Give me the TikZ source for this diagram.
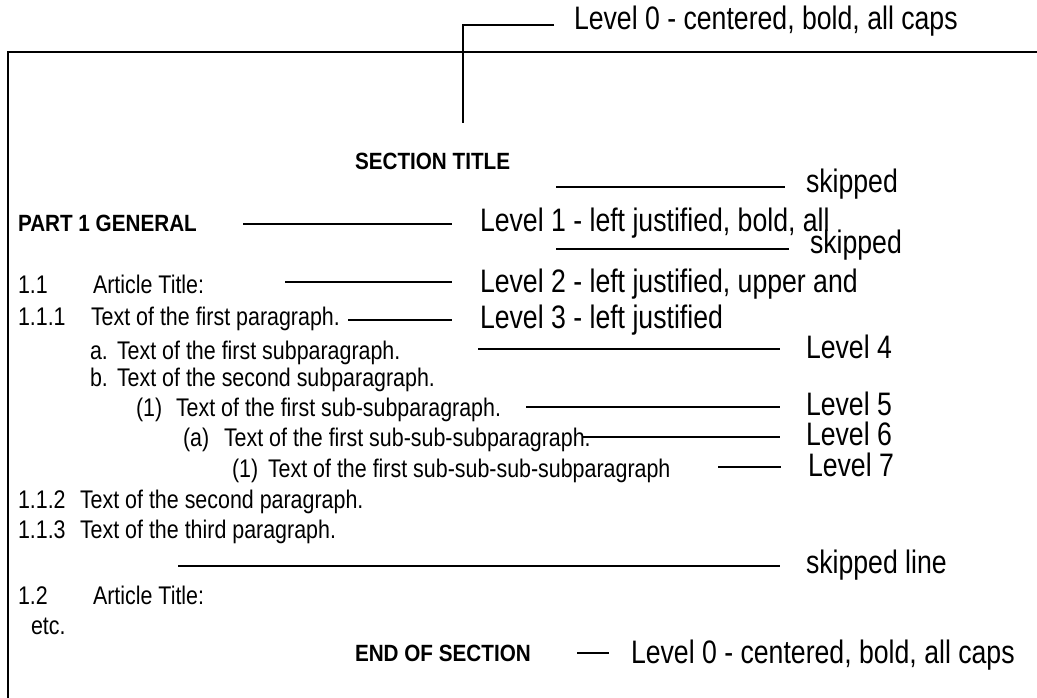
\documentclass[tikz,border=0pt]{standalone}
\usepackage{fontspec}
\setmainfont{Liberation Sans}[FakeStretch=0.84]
\newfontfamily\bignarrow{Liberation Sans}[FakeStretch=0.82]
\newfontfamily\bnarrow{Liberation Sans}[FakeStretch=0.88]
\begin{document}
\begin{tikzpicture}[x=1pt,y=-1pt,
  every node/.style={inner sep=0pt,outer sep=0pt,anchor=base west},
  body/.style={font=\fontsize{25.5}{27}\selectfont},
  head/.style={font=\bnarrow\bfseries\fontsize{23.5}{25}\selectfont},
  label/.style={font=\bignarrow\fontsize{32.5}{34}\selectfont},
  lead/.style={line width=1.6pt},
  frame/.style={line width=2.6pt}]
\useasboundingbox (0,0) rectangle (1037,698);
% frame
\coordinate (fbl) at (8,700);
\coordinate (ftl) at (8,52);
\coordinate (ftr) at (1040,52);
\draw[frame] (fbl) -- (ftl) -- (ftr);
% top label
\node[label] (l0top) at (574,30) {Level 0 - centered, bold, all caps};
\coordinate (t1) at (554,25);
\coordinate (t2) at (463,25);
\coordinate (t3) at (463,123);
\draw[lead] (t1) -- (t2) -- (t3);
% section title
\node[head] (sect) at (355,170) {SECTION TITLE};
\coordinate (s1a) at (556,187); \coordinate (s1b) at (785,187);
\draw[lead] (s1a) -- (s1b);
\node[label] (skip1) at (806,193) {skipped};
% part
\node[head] (part) at (18,232) {PART 1 GENERAL};
\coordinate (p1) at (243,224); \coordinate (p2) at (452,224);
\draw[lead] (p1) -- (p2);
\node[label] (l1) at (480,231) {Level 1 - left justified, bold, all};
\coordinate (s2a) at (556,249); \coordinate (s2b) at (789,249);
\draw[lead] (s2a) -- (s2b);
\node[label] (skip2) at (810,254) {skipped};
% 1.1
\node[body] (n11) at (18,293) {1.1};
\node[body] (a11) at (93,293) {Article Title:};
\coordinate (q1) at (285,282); \coordinate (q2) at (452,282);
\draw[lead] (q1) -- (q2);
\node[label] (l2) at (480,292) {Level 2 - left justified, upper and};
% 1.1.1
\node[body] (n111) at (18,325) {1.1.1};
\node[body] (t111) at (91,325) {Text of the first paragraph.};
\coordinate (r1) at (348,320); \coordinate (r2) at (452,320);
\draw[lead] (r1) -- (r2);
\node[label] (l3) at (480,328) {Level 3 - left justified};
% a.
\node[body] (na) at (90,359) {a.};
\node[body] (ta) at (117,359) {Text of the first subparagraph.};
\coordinate (u1) at (478,349); \coordinate (u2) at (780,349);
\draw[lead] (u1) -- (u2);
\node[label] (l4) at (806,358) {Level 4};
% b.
\node[body] (nb) at (90,386) {b.};
\node[body] (tb) at (117,386) {Text of the second subparagraph.};
% (1)
\node[body] (n1) at (136,416) {(1)};
\node[body] (t1n) at (176,416) {Text of the first sub-subparagraph.};
\coordinate (v1) at (526,407); \coordinate (v2) at (780,407);
\draw[lead] (v1) -- (v2);
\node[label] (l5) at (806,415) {Level 5};
% (a)
\node[body] (nA) at (183,446) {(a)};
\node[body] (tA) at (224,446) {Text of the first sub-sub-subparagraph.};
\coordinate (w1) at (582,437); \coordinate (w2) at (780,437);
\draw[lead] (w1) -- (w2);
\node[label] (l6) at (806,445) {Level 6};
% (1) level 7
\node[body] (n7) at (232,477) {(1)};
\node[body] (t7) at (268,477) {Text of the first sub-sub-sub-subparagraph};
\coordinate (x1) at (718,467); \coordinate (x2) at (781,467);
\draw[lead] (x1) -- (x2);
\node[label] (l7) at (808,476) {Level 7};
% 1.1.2 / 1.1.3
\node[body] (n112) at (18,508) {1.1.2};
\node[body] (t112) at (80,508) {Text of the second paragraph.};
\node[body] (n113) at (18,538) {1.1.3};
\node[body] (t113) at (80,538) {Text of the third paragraph.};
% skipped line
\coordinate (y1) at (178,566); \coordinate (y2) at (780,566);
\draw[lead] (y1) -- (y2);
\node[label] (skip3) at (806,573) {skipped line};
% 1.2
\node[body] (n12) at (18,604) {1.2};
\node[body] (a12) at (93,604) {Article Title:};
\node[body] (etc) at (31,634) {etc.};
% end
\node[head] (endsec) at (355,661) {END OF SECTION};
\coordinate (z1) at (577,653); \coordinate (z2) at (609,653);
\draw[lead] (z1) -- (z2);
\node[label] (l0bot) at (631,663) {Level 0 - centered, bold, all caps};
\end{tikzpicture}
\end{document}
